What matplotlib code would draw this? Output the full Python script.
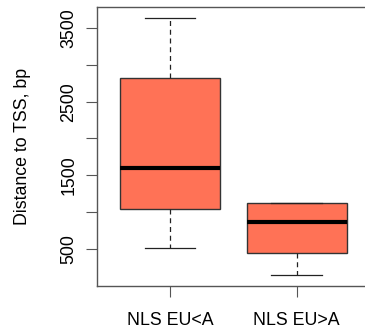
import matplotlib
matplotlib.use("Agg")
from matplotlib import pyplot as plt

# values
groups = ["NLS EU<A", "NLS EU>A"]
whisker_low = [510, 140]
q1 = [1035, 435]
median = [1600, 865]
q3 = [2825, 1125]
whisker_high = [3635, 1125]

y_ticks = [500, 1000, 1500, 2000, 2500, 3000, 3500]
y_ticklabels = ["500", "", "1500", "", "2500", "", "3500"]

plt.rcParams['font.family'] = ['Liberation Sans', 'DejaVu Sans']

stats = []
for i, name in enumerate(groups):
    stats.append({'label': name, 'whislo': whisker_low[i], 'q1': q1[i], 'med': median[i],
                  'q3': q3[i], 'whishi': whisker_high[i], 'fliers': []})

fig = plt.figure(figsize=(3.65, 3.33), dpi=100)
ax = fig.add_axes([97 / 365, 1 - 285.7 / 333, 272.7 / 365, 278.4 / 333])

ax.bxp(stats, positions=[1, 2], widths=0.79, showfliers=False, patch_artist=True,
       boxprops=dict(facecolor='#FF7256', edgecolor='#333333', linewidth=1.0),
       medianprops=dict(color='black', linewidth=3.0, solid_capstyle='butt'),
       whiskerprops=dict(color='#222222', linewidth=0.9, linestyle=(0, (4, 3))),
       capprops=dict(color='#222222', linewidth=0.9),
       capwidths=0.4)

ax.set_xlim(0.424, 2.576)
ax.set_ylim(-4, 3785)
ax.set_yticks(y_ticks)
ax.set_yticklabels(y_ticklabels, rotation=90, va='center', fontsize=12.8)
ax.set_xticks([1, 2])
ax.set_xticklabels(groups, fontsize=12.8)
ax.tick_params(axis='both', length=8, width=0.8, color='#555555')
ax.tick_params(axis='y', pad=6)
ax.tick_params(axis='x', pad=11)
ax.set_ylabel("Distance to TSS, bp", fontsize=12.8)
ax.yaxis.set_label_coords(-66 / 272.7, 0.5)

# the plot box is cut off at the right edge in the reference
for side in ['left', 'bottom', 'top']:
    ax.spines[side].set_color('#555555')
    ax.spines[side].set_linewidth(1.0)
ax.spines['right'].set_visible(False)

fig.savefig("out.png", dpi=100)
